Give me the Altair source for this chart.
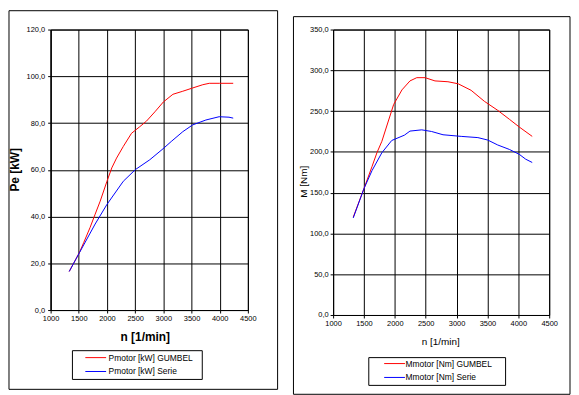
import altair as alt
import pandas as pd

# ---------------- data ----------------
# Left panel: power Pe [kW] vs n [1/min]
p_names = ["Pmotor [kW] GUMBEL", "Pmotor [kW] Serie"]
p_gumbel_n = [1330, 1515, 1590, 1700, 1790, 1880, 2000, 2085, 2170, 2290, 2435, 2580, 2700, 2850, 3000, 3170, 3345, 3520, 3700, 3815, 4000, 4240]
p_gumbel_v = [16.5, 24.8, 29.0, 35.3, 41.0, 46.6, 55.1, 60.8, 65.0, 70.0, 75.6, 78.4, 80.8, 84.8, 89.0, 92.3, 93.6, 95.0, 96.4, 97.0, 97.0, 97.0]
p_serie_n = [1330, 1515, 1790, 2000, 2290, 2505, 2760, 2995, 3140, 3345, 3520, 3755, 3990, 4165, 4240]
p_serie_v = [16.5, 24.7, 36.8, 45.2, 55.1, 60.1, 64.3, 69.0, 72.1, 76.3, 79.2, 81.3, 82.7, 82.5, 82.1]

# Right panel: torque M [Nm] vs n [1/min]
m_names = ["Mmotor [Nm] GUMBEL", "Mmotor [Nm] Serie"]
m_gumbel_n = [1326, 1500, 1630, 1710, 1790, 1980, 2115, 2245, 2355, 2490, 2650, 2860, 3025, 3235, 3450, 3665, 3855, 4015, 4225]
m_gumbel_v = [120, 155, 182, 199, 213, 258, 276, 287, 291, 291, 287, 286, 283.5, 275.5, 262, 251, 240, 230.5, 219]
m_serie_n = [1326, 1500, 1630, 1790, 1950, 2155, 2245, 2435, 2595, 2780, 3075, 3345, 3505, 3665, 3855, 4015, 4120, 4225]
m_serie_v = [119, 155, 177, 199, 214, 220.5, 225.5, 227, 225, 221, 219, 217.5, 214.5, 208.5, 203, 197, 191, 187]

x_ticks = [1000, 1500, 2000, 2500, 3000, 3500, 4000, 4500]
p_ticks = [0, 20, 40, 60, 80, 100, 120]
m_ticks = [0, 50, 100, 150, 200, 250, 300, 350]

FONT = "Liberation Sans"
LBL = "replace(format(datum.value, '.1f'), '.', ',')"


def panel(n1, v1, n2, v2, names, yticks, ytitle, ybold, xbold, tsize,
          W, H, box, lbox, lx, ly, loff, ytx, yty, xtx, xty, lpad):
    d1 = pd.DataFrame({"n": n1, "v": v1, "s": names[0]})
    d2 = pd.DataFrame({"n": n2, "v": v2, "s": names[1]})
    color = alt.Color(
        "s:N",
        scale=alt.Scale(domain=names, range=["#ff0000", "#0000ff"]),
        legend=alt.Legend(
            title=None, orient="none", legendX=lx, legendY=ly, padding=0,
            symbolType="M-2.33,0H2.33", symbolSize=81, symbolStrokeWidth=1,
            labelFont=FONT, labelFontSize=8.5, labelColor="black",
            labelOffset=loff, rowPadding=4,
        ),
    )
    xenc = alt.X(
        "n:Q",
        scale=alt.Scale(domain=[x_ticks[0], x_ticks[-1]], nice=False, zero=False),
        axis=alt.Axis(
            values=x_ticks, format="d", grid=True, gridColor="black", gridOpacity=1,
            domainColor="black", tickColor="black", tickSize=3,
            labelFont=FONT, labelFontSize=7.5, labelColor="black", labelPadding=2,
            labelFlush=False, labelOverlap=False,
            title="n [1/min]", titleFont=FONT, titleFontSize=12 if xbold else 10,
            titleFontWeight="bold" if xbold else "normal", titleColor="black",
            titleX=xtx, titleY=xty, titleAlign="center", titleBaseline="middle",
        ),
    )
    yenc = alt.Y(
        "v:Q",
        scale=alt.Scale(domain=[yticks[0], yticks[-1]], nice=False),
        axis=alt.Axis(
            values=yticks, labelExpr=LBL, grid=True, gridColor="black", gridOpacity=1,
            domainColor="black", tickColor="black", tickSize=3,
            labelFont=FONT, labelFontSize=7.5, labelColor="black", labelPadding=lpad,
            labelFlush=False, labelOverlap=False,
            title=ytitle, titleFont=FONT, titleFontSize=tsize,
            titleFontWeight="bold" if ybold else "normal", titleColor="black",
            titleX=ytx, titleY=yty, titleAngle=270, titleAlign="center",
            titleBaseline="middle",
        ),
    )
    red = alt.Chart(d1).mark_line(strokeWidth=1).encode(x=xenc, y=yenc, color=color, order="n:Q")
    blue = alt.Chart(d2).mark_line(strokeWidth=1).encode(x=xenc, y=yenc, color=color, order="n:Q")
    one = pd.DataFrame({"k": [0]})
    outer = alt.Chart(one).mark_rect(fill="white", fillOpacity=0, stroke="black", strokeWidth=1, clip=False).encode(
        x=alt.value(box[0]), x2=alt.value(box[1]), y=alt.value(box[2]), y2=alt.value(box[3]))
    lrect = alt.Chart(one).mark_rect(fill="white", fillOpacity=0, stroke="black", strokeWidth=1, clip=False).encode(
        x=alt.value(lbox[0]), x2=alt.value(lbox[1]), y=alt.value(lbox[2]), y2=alt.value(lbox[3]))
    return alt.layer(red, blue, outer, lrect).properties(width=W, height=H)


left = panel(p_gumbel_n, p_gumbel_v, p_serie_n, p_serie_v, p_names, p_ticks,
             "Pe [kW]", True, True, 12,
             199, 283,
             box=(-42, 229, -19, 363), lbox=(22, 153, 324, 353),
             lx=40.5, ly=326, loff=8, ytx=-36, yty=141, xtx=95, xty=27, lpad=3)

right = panel(m_gumbel_n, m_gumbel_v, m_serie_n, m_serie_v, m_names, m_ticks,
              "M [Nm]", False, False, 10,
              218, 288,
              box=(-40, 239, -13, 368), lbox=(36, 174, 331, 359),
              lx=57, ly=332, loff=6, ytx=-30, yty=153, xtx=108, xty=27, lpad=2)

chart = alt.hconcat(left, right, spacing=14).properties(
    padding=0, background="white"
).configure_view(stroke="black", strokeWidth=1).resolve_scale(color="independent")

chart.save("out.html", embed_options={"renderer": "svg", "actions": False})
